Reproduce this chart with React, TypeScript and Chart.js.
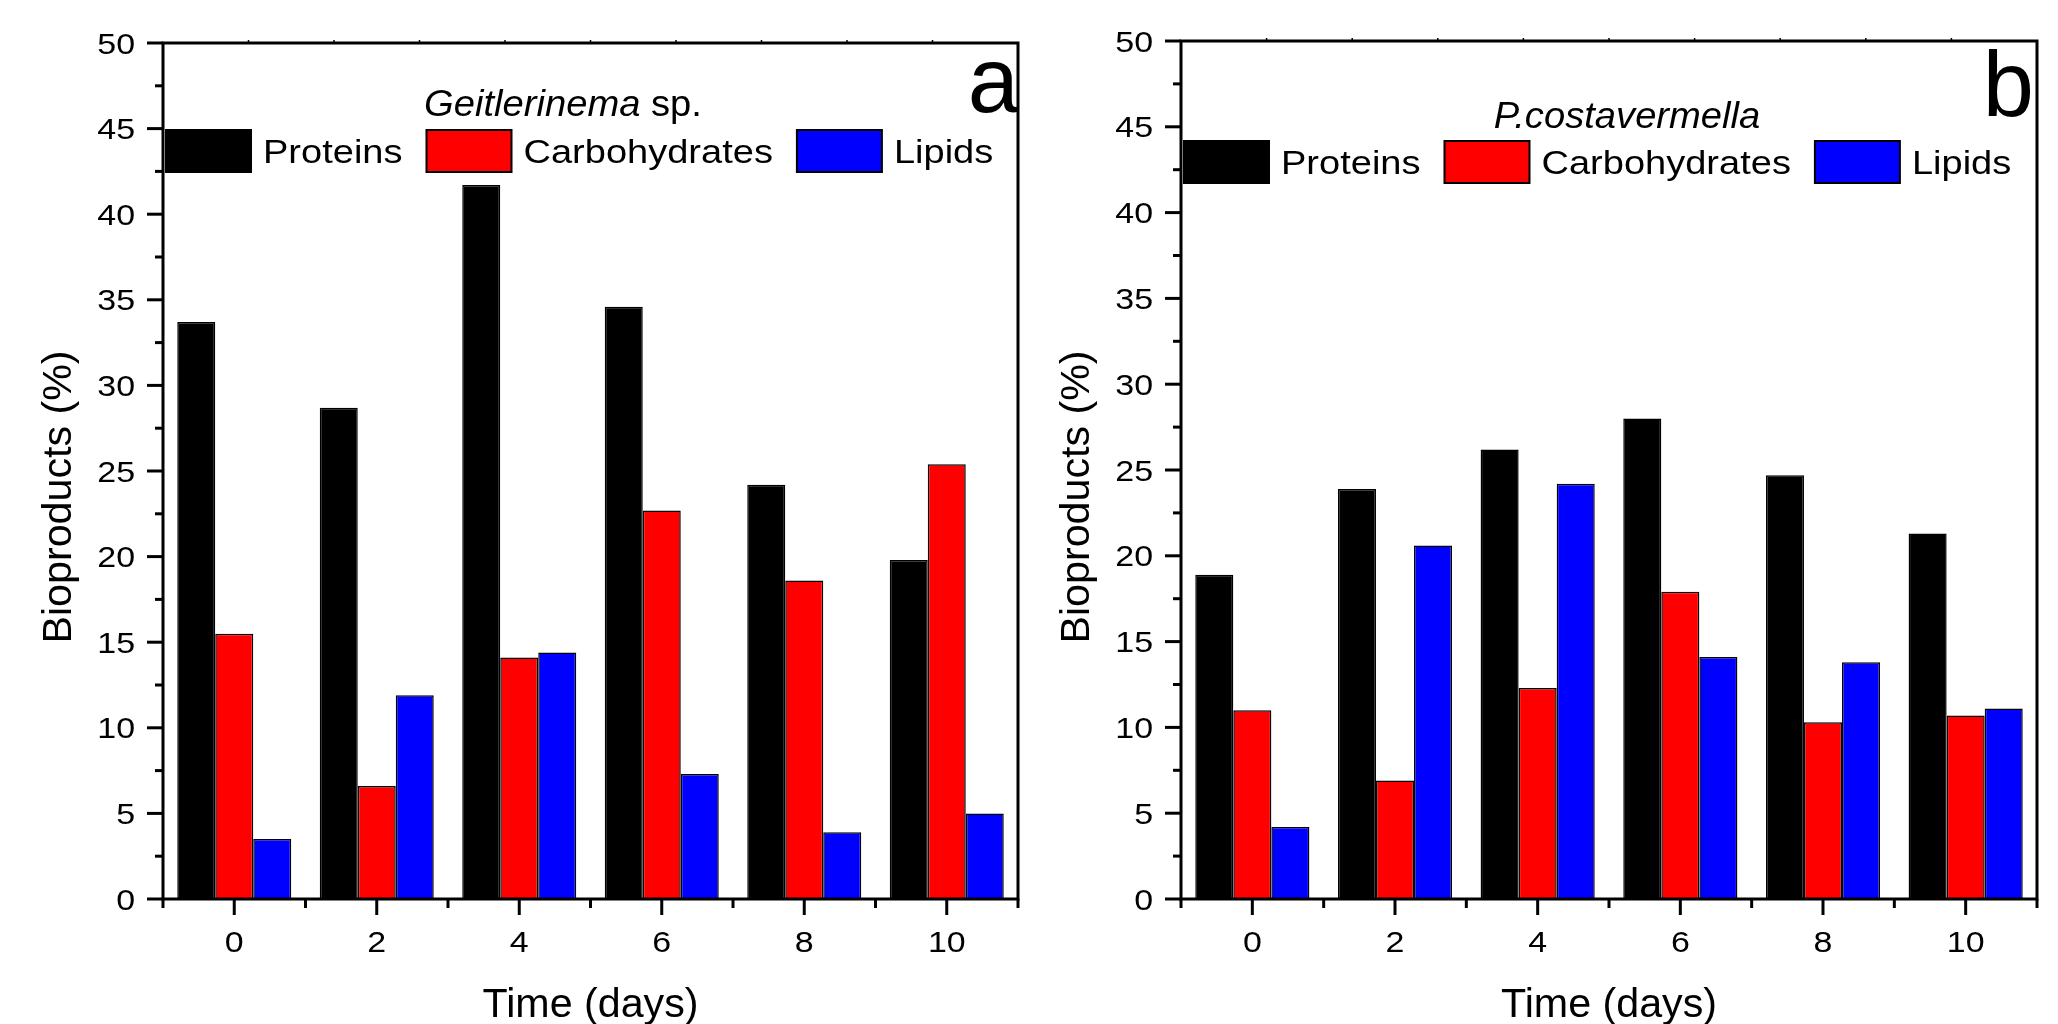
import React, { useEffect, useRef } from "react";
import { Chart, registerables } from "chart.js";

Chart.register(...registerables);

// ---------- data ----------
const days = ["0", "2", "4", "6", "8", "10"];
const seriesNames = ["Proteins", "Carbohydrates", "Lipids"];
const seriesColors = ["#000000", "#FF0000", "#0000FF"];

const geitProteins = [33.7, 28.7, 41.7, 34.6, 24.2, 19.8];
const geitCarbs = [15.5, 6.6, 14.1, 22.7, 18.6, 25.4];
const geitLipids = [3.5, 11.9, 14.4, 7.3, 3.9, 5.0];

const pcosProteins = [18.9, 23.9, 26.2, 28.0, 24.7, 21.3];
const pcosCarbs = [11.0, 6.9, 12.3, 17.9, 10.3, 10.7];
const pcosLipids = [4.2, 20.6, 24.2, 14.1, 13.8, 11.1];

const yMin = 0;
const yMax = 50;
const yStep = 5;
const yMinorStep = 2.5;

const xTitle = "Time (days)";
const yTitle = "Bioproducts (%)";

const FONT = '"Liberation Sans", Arial, Helvetica, sans-serif';

// ---------- layout (positions / styles) ----------
type Part = { text: string; italic: boolean };
type Panel = {
  canvasLeft: number;
  width: number;
  area: { left: number; right: number; top: number; bottom: number };
  titleParts: Part[];
  titleX: number;
  titleY: number;
  legendTop: number;
  letter: string;
  letterX: number;
  letterY: number;
  values: number[][];
};

const H = 1024;

const panels: Panel[] = [
  {
    canvasLeft: 0,
    width: 1040,
    area: { left: 163, right: 1018, top: 43, bottom: 899 },
    titleParts: [
      { text: "Geitlerinema", italic: true },
      { text: " sp.", italic: false },
    ],
    titleX: 563,
    titleY: 116,
    legendTop: 130,
    letter: "a",
    letterX: 1019,
    letterY: 112,
    values: [geitProteins, geitCarbs, geitLipids],
  },
  {
    canvasLeft: 1040,
    width: 1018,
    area: { left: 141, right: 997, top: 41, bottom: 899 },
    titleParts: [{ text: "P.costavermella", italic: true }],
    titleX: 587,
    titleY: 128,
    legendTop: 141,
    letter: "b",
    letterX: 994,
    letterY: 116,
    values: [pcosProteins, pcosCarbs, pcosLipids],
  },
];

function drawText(
  ctx: CanvasRenderingContext2D,
  text: string,
  x: number,
  y: number,
  font: string,
  sx: number,
  align: CanvasTextAlign
) {
  ctx.save();
  ctx.font = font;
  ctx.textAlign = align;
  ctx.textBaseline = "alphabetic";
  ctx.fillStyle = "#000";
  ctx.translate(x, y);
  ctx.scale(sx, 1);
  ctx.fillText(text, 0, 0);
  ctx.restore();
}

const TICK_SIZE = 29.5;
const TICK_SX = 1.15;

function makeDecorPlugin(p: Panel) {
  return {
    id: "decor",
    afterDatasetsDraw(chart: any) {
      const { ctx, chartArea: a, scales } = chart;
      const x = scales.x;
      const y = scales.y;
      ctx.save();
      ctx.strokeStyle = "#000";
      ctx.lineCap = "butt";

      // y ticks (major + minor, outward)
      ctx.lineWidth = 3;
      for (let v = yMin; v <= yMax + 1e-9; v += yMinorStep) {
        const py = y.getPixelForValue(v);
        const major = Math.abs(v % yStep) < 1e-6;
        ctx.beginPath();
        ctx.moveTo(a.left, py);
        ctx.lineTo(a.left - (major ? 16 : 8), py);
        ctx.stroke();
      }
      // y tick labels
      y.ticks.forEach((t: any) => {
        const py = y.getPixelForValue(t.value);
        drawText(
          ctx,
          String(t.value),
          a.left - 28,
          py + 0.358 * TICK_SIZE,
          `${TICK_SIZE}px ${FONT}`,
          TICK_SX,
          "right"
        );
      });

      // x ticks: major at category centres, minor at boundaries
      const n = days.length;
      const step = x.getPixelForValue(1) - x.getPixelForValue(0);
      for (let i = 0; i < n; i++) {
        const px = x.getPixelForValue(i);
        ctx.beginPath();
        ctx.moveTo(px, a.bottom);
        ctx.lineTo(px, a.bottom + 16);
        ctx.stroke();
        const bx = px - step / 2;
        ctx.beginPath();
        ctx.moveTo(bx, a.bottom);
        ctx.lineTo(bx, a.bottom + 9);
        ctx.stroke();
        drawText(
          ctx,
          String(chart.data.labels[i]),
          px,
          952,
          `${TICK_SIZE}px ${FONT}`,
          TICK_SX,
          "center"
        );
      }
      const lastB = x.getPixelForValue(n - 1) + step / 2;
      ctx.beginPath();
      ctx.moveTo(lastB, a.bottom);
      ctx.lineTo(lastB, a.bottom + 9);
      ctx.stroke();

      // faint ticks on the top axis
      ctx.lineWidth = 1.5;
      for (let k = 1; k < 10; k++) {
        const tx = a.left + ((a.right - a.left) * k) / 10;
        ctx.beginPath();
        ctx.moveTo(tx, a.top);
        ctx.lineTo(tx, a.top - 3);
        ctx.stroke();
      }

      // frame
      ctx.lineWidth = 3;
      ctx.strokeRect(a.left, a.top, a.right - a.left, a.bottom - a.top);

      // legend title
      const titleSize = 36;
      const titleSx = 1.06;
      const fonts = p.titleParts.map(
        (t) => `${t.italic ? "italic " : ""}${titleSize}px ${FONT}`
      );
      let total = 0;
      p.titleParts.forEach((t, i) => {
        ctx.font = fonts[i];
        total += ctx.measureText(t.text).width * titleSx;
      });
      let tx = p.titleX - total / 2;
      p.titleParts.forEach((t, i) => {
        drawText(ctx, t.text, tx, p.titleY, fonts[i], titleSx, "left");
        ctx.font = fonts[i];
        tx += ctx.measureText(t.text).width * titleSx;
      });

      // legend
      const boxW = 85;
      const boxH = 42;
      const legSize = 32.5;
      const legSx = 1.17;
      let lx = a.left + 3;
      chart.data.datasets.forEach((ds: any) => {
        ctx.fillStyle = ds.backgroundColor;
        ctx.fillRect(lx, p.legendTop, boxW, boxH);
        ctx.lineWidth = 2;
        ctx.strokeStyle = "#000";
        ctx.strokeRect(lx, p.legendTop, boxW, boxH);
        drawText(ctx, ds.label, lx + boxW + 12, p.legendTop + 33, `${legSize}px ${FONT}`, legSx, "left");
        ctx.font = `${legSize}px ${FONT}`;
        lx += boxW + 12 + ctx.measureText(ds.label).width * legSx + 24;
      });

      // panel letter
      drawText(ctx, p.letter, p.letterX, p.letterY, `92px ${FONT}`, 1, "right");

      // axis titles
      drawText(ctx, xTitle, (a.left + a.right) / 2, 1017, `40px ${FONT}`, 1.03, "center");
      ctx.save();
      ctx.translate(a.left - 92, 497);
      ctx.rotate(-Math.PI / 2);
      drawText(ctx, yTitle, 0, 0, `40px ${FONT}`, 1.03, "center");
      ctx.restore();

      ctx.restore();
    },
  };
}

function PanelChart({ p }: { p: Panel }) {
  const ref = useRef<HTMLCanvasElement | null>(null);
  useEffect(() => {
    if (!ref.current) return;
    const chart = new Chart(ref.current, {
      type: "bar",
      data: {
        labels: days,
        datasets: seriesNames.map((name, i) => ({
          label: name,
          data: p.values[i],
          backgroundColor: seriesColors[i],
          borderColor: "#000000",
          borderWidth: 1.5,
          barPercentage: 1.0,
          categoryPercentage: 0.8,
        })),
      },
      options: {
        responsive: false,
        devicePixelRatio: 1,
        animation: false,
        layout: {
          padding: { top: p.area.top, right: p.width - p.area.right, left: 0, bottom: 0 },
        },
        plugins: {
          legend: { display: false },
          tooltip: { enabled: false },
          title: { display: false },
        },
        scales: {
          x: {
            type: "category",
            offset: true,
            grid: { display: false, drawTicks: false },
            border: { display: false },
            ticks: { display: false },
            afterFit: (s: any) => {
              s.height = H - p.area.bottom;
            },
          },
          y: {
            type: "linear",
            min: yMin,
            max: yMax,
            grid: { display: false, drawTicks: false },
            border: { display: false },
            ticks: { display: false, stepSize: yStep },
            afterFit: (s: any) => {
              s.width = p.area.left;
            },
          },
        },
      },
      plugins: [makeDecorPlugin(p)],
    });
    return () => chart.destroy();
  }, [p]);
  return (
    <canvas
      ref={ref}
      width={p.width}
      height={H}
      style={{ position: "absolute", left: p.canvasLeft, top: 0, width: p.width, height: H }}
    />
  );
}

export default function App() {
  return (
    <div
      style={{
        position: "absolute",
        left: 0,
        top: 0,
        width: 2058,
        height: H,
        background: "#ffffff",
        overflow: "hidden",
      }}
    >
      {panels.map((p, i) => (
        <PanelChart key={i} p={p} />
      ))}
    </div>
  );
}
